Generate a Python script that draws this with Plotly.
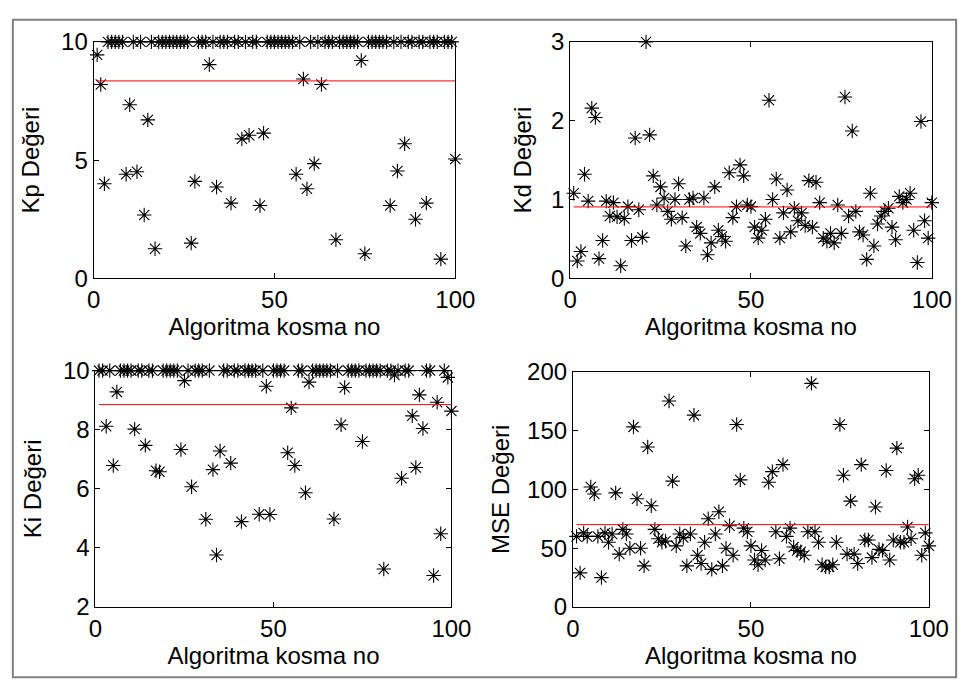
import plotly.graph_objects as go

# Run index for each of the 100 algorithm runs
runs = list(range(1, 101))

kp_values = [
    9.45, 8.2, 4.0, 10, 10, 10, 10, 10, 4.4, 7.34,
    10, 4.51, 10, 2.68, 6.7, 10, 1.25, 10, 10, 10,
    10, 10, 10, 10, 10, 10, 1.49, 4.1, 10, 10,
    10, 9.04, 10, 3.86, 10, 10, 10, 3.18, 10, 10,
    5.9, 10, 6.05, 10, 10, 3.08, 6.14, 10, 10, 10,
    10, 10, 10, 10, 10, 4.4, 10, 8.43, 3.79, 10,
    4.85, 10, 8.2, 10, 10, 10, 1.63, 10, 10, 10,
    10, 10, 10, 9.21, 1.04, 10, 10, 10, 10, 10,
    10, 3.08, 10, 4.54, 10, 5.69, 10, 10, 2.5, 10,
    10, 3.18, 10, 10, 10, 0.81, 10, 10, 10, 5.05,
]

kd_values = [
    1.08, 0.22, 0.34, 1.32, 0.98, 2.16, 2.04, 0.25, 0.48, 0.98,
    0.79, 0.96, 0.78, 0.16, 0.76, 0.91, 0.48, 1.78, 0.87, 0.52,
    3.0, 1.82, 1.30, 0.93, 1.16, 1.02, 0.85, 0.75, 1.00, 1.20,
    0.77, 0.41, 1.00, 1.02, 0.65, 0.57, 1.02, 0.30, 0.45, 1.16,
    0.61, 0.53, 0.47, 1.34, 0.77, 0.91, 1.44, 1.30, 0.93, 0.91,
    0.65, 0.51, 0.61, 0.75, 2.26, 1.00, 1.26, 0.51, 0.83, 1.12,
    0.59, 0.89, 0.73, 0.83, 0.67, 1.24, 0.65, 1.22, 0.96, 0.51,
    0.47, 0.57, 0.45, 0.93, 0.57, 2.30, 0.79, 1.87, 0.85, 0.59,
    0.55, 0.24, 1.08, 0.41, 0.69, 0.79, 0.85, 0.89, 0.65, 0.49,
    1.04, 0.96, 1.00, 1.08, 0.61, 0.20, 1.99, 0.73, 0.51, 0.96,
]

ki_values = [
    10, 10, 8.12, 10, 6.79, 9.28, 10, 10, 10, 10,
    8.02, 10, 10, 7.47, 10, 10, 6.61, 6.58, 10, 10,
    10, 10, 10, 7.33, 9.66, 10, 6.07, 10, 10, 10,
    4.97, 10, 6.65, 3.76, 7.28, 10, 10, 6.87, 10, 10,
    4.89, 10, 10, 10, 10, 5.14, 10, 9.47, 5.13, 10,
    10, 10, 10, 7.22, 8.74, 6.79, 10, 10, 5.87, 9.61,
    10, 10, 10, 10, 10, 10, 4.98, 10, 8.17, 9.43,
    10, 10, 10, 10, 7.6, 10, 10, 10, 10, 10,
    3.29, 10, 10, 9.85, 10, 6.36, 10, 10, 8.47, 6.72,
    9.18, 8.04, 10, 10, 3.07, 8.93, 4.48, 10, 9.77, 8.63,
]

mse_values = [
    60, 29, 63, 60, 102, 96, 60, 25, 63, 55,
    62, 97, 45, 66, 62, 50, 153, 92, 50, 35,
    136, 86, 66, 58, 55, 56, 175, 107, 52, 62,
    59, 35, 62, 163, 44, 37, 55, 75, 32, 62,
    81, 35, 50, 69, 44, 155, 108, 67, 64, 52,
    40, 36, 48, 40, 106, 115, 64, 41, 121, 60,
    67, 51, 48, 47, 44, 64, 190, 64, 55, 36,
    34, 34, 36, 55, 155, 112, 45, 90, 45, 37,
    121, 57, 57, 42, 85, 49, 48, 116, 40, 57,
    135, 55, 55, 68, 58, 109, 112, 44, 63, 52,
]

# Mean level drawn as a red reference line in each panel
mean_levels = [8.35, 0.906, 8.85, 70.0]

panel_series = [kp_values, kd_values, ki_values, mse_values]
y_titles = ["Kp Değeri", "Kd Değeri", "Ki Değeri", "MSE Değeri"]
y_ranges = [[0, 10], [0, 3], [2, 10], [0, 200]]
y_ticks = [[0, 5, 10], [0, 1, 2, 3], [2, 4, 6, 8, 10], [0, 50, 100, 150, 200]]
x_ticks = [0, 50, 100]
x_title = "Algoritma kosma no"

W, H = 980, 696
# Plot-area boxes in pixels: (left, right, top, bottom)
boxes = [
    (89, 461, 29, 275),
    (579, 951, 29, 275),
    (91, 457, 371, 617),
    (582, 948, 372, 617),
]
y_standoffs = [14, 12, 14, 10]

FONT = "Liberation Sans, Arial, sans-serif"
fig = go.Figure()

for k, (vals, mean, box) in enumerate(zip(panel_series, mean_levels, boxes)):
    ax = "" if k == 0 else str(k + 1)
    xa, ya = "x" + ax, "y" + ax
    fig.add_trace(go.Scatter(
        x=runs, y=vals, mode="markers", xaxis=xa, yaxis=ya,
        marker=dict(symbol="asterisk-open", size=12, color="black",
                    line=dict(color="black", width=1.1)),
        cliponaxis=False, showlegend=False, hoverinfo="x+y",
    ))
    fig.add_trace(go.Scatter(
        x=[runs[0], runs[-1]], y=[mean, mean], mode="lines",
        xaxis=xa, yaxis=ya, line=dict(color="red", width=1),
        showlegend=False, hoverinfo="skip",
    ))
    l, r, t, b = box
    common = dict(
        showgrid=False, zeroline=False, showline=True, linecolor="black",
        linewidth=1, mirror="ticks", ticks="inside", ticklen=5,
        tickcolor="black", tickfont=dict(family=FONT, size=24, color="black"),
    )
    fig.layout["xaxis" + ax] = dict(
        domain=[l / W, r / W], anchor=ya, range=[0, 100],
        tickvals=x_ticks, title=dict(text=x_title, standoff=6,
                                     font=dict(family=FONT, size=24, color="black")),
        **common,
    )
    fig.layout["yaxis" + ax] = dict(
        domain=[1 - b / H, 1 - t / H], anchor=xa, range=y_ranges[k],
        tickvals=y_ticks[k], title=dict(text=y_titles[k], standoff=y_standoffs[k],
                                        font=dict(family=FONT, size=24, color="black")),
        **common,
    )

# Grey frame around the whole figure
fig.add_shape(type="rect", xref="paper", yref="paper",
              x0=6 / W, x1=976 / W, y0=1 - 690 / H, y1=1 - 6 / H,
              line=dict(color="#808080", width=2), fillcolor="rgba(0,0,0,0)")

fig.update_layout(
    width=W, height=H, margin=dict(l=0, r=0, t=0, b=0),
    paper_bgcolor="white", plot_bgcolor="white",
    font=dict(family=FONT, color="black"),
)

fig.write_html("out.html")
